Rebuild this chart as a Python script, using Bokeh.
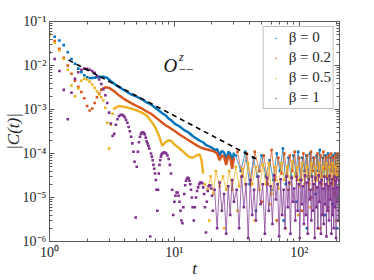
from bokeh.plotting import figure
from bokeh.models import Range1d, LogAxis, LogTicker, CustomJSTickFormatter, Legend, LegendItem
from bokeh.core.properties import value
from bokeh.embed import file_html
from bokeh.resources import INLINE

BLUE = "#0072BD"; ORANGE = "#D95319"; YELLOW = "#EDB120"; PURPLE = "#7E2F8E"
legend_labels = ["β = 0", "β = 0.2", "β = 0.5", "β = 1"]

# ---------------- beta = 0 ----------------
blue_t_early = [1.0,1.1,1.2,1.3,1.4,1.5,1.6,1.7,1.8,1.9,2.0,2.1,2.2,2.3,2.4,2.5]
blue_C_early = [5.0e-2,4.5e-2,3.7e-2,2.9e-2,2.0e-2,1.4e-2,1.1e-2,8.5e-3,7.0e-3,6.0e-3,5.4e-3,5.2e-3,5.2e-3,5.3e-3,5.4e-3,5.5e-3]
blue_t_mid = [2.5,2.7,2.9,3.1,3.4,3.7,4.0,4.5,5.0,5.5,6.0,6.5,7.0,7.5,8.0,8.5,9.0,9.5,
              10,11,12,13,14,15,16,17,18,19,20,21,22,23,24,25,26,27,28,29,30]
blue_C_mid = [5.5e-3,5.6e-3,5.2e-3,4.4e-3,3.6e-3,3.1e-3,2.7e-3,
              2.2e-3,1.95e-3,1.7e-3,1.45e-3,1.3e-3,1.1e-3,9.5e-4,8.2e-4,7.4e-4,6.2e-4,5.6e-4,
              4.8e-4,4.1e-4,3.4e-4,3.0e-4,2.5e-4,2.2e-4,1.95e-4,1.8e-4,1.55e-4,1.45e-4,1.35e-4,
              1.2e-4,1.25e-4,9e-5,1.15e-4,1.05e-4,7e-5,1.1e-4,1.0e-4,6e-5,1.05e-4]
blue_t_tail = [31,34,37,40,43,46,50,54,58,62,66,70,74,78,82,86,90,94,98,102,106,110,114,118,
               122,126,130,134,138,142,146,150,154,158,162,166,170,174,178,182,186,190,194,198,202,206]
blue_C_tail = [9e-5,4e-5,1.1e-4,2e-5,8e-5,3e-5,9e-5,3e-5,7e-5,2.5e-5,
               1.0e-4,4e-5,1.3e-4,2e-5,8e-5,3e-5,9e-5,3.5e-5,1.1e-4,2.5e-5,
               8e-5,4e-5,9e-5,3e-5,1e-4,3e-5,8e-5,2.5e-5,9e-5,4e-5,
               1.2e-4,2e-5,8e-5,3e-5,9e-5,3e-5,1e-4,2.5e-5,8e-5,4e-5,
               9e-5,2.5e-5,1e-4,3e-5,8e-5,3e-5]
blue_t_low = [45,60,75,95,115,135,160,185,200]
blue_C_low = [5e-6,1.5e-5,3e-6,8e-6,2e-6,1.2e-5,4e-6,7e-6,2e-6]

# ---------------- beta = 0.2 ----------------
orange_t_early = [1.0,1.1,1.2,1.3,1.4,1.5,1.6,1.7,1.8,1.9,2.0,2.1,2.2,2.3,2.4,2.5,2.6]
orange_C_early = [5.2e-2,3.6e-2,2.4e-2,1.5e-2,1.0e-2,6.5e-3,4.5e-3,3.3e-3,2.5e-3,1.8e-3,1.2e-3,
                  9.5e-4,1.05e-3,1.4e-3,1.9e-3,2.3e-3,2.8e-3]
orange_t_mid = [2.6,2.8,3.0,3.3,3.6,4.0,4.5,5.0,5.5,6.0,6.5,7.0,7.5,8.0,8.5,9.0,9.5,
                10,11,12,13,14,15,16,17,18,19,20,21,22,23,24,25,26,27,28,29,30]
orange_C_mid = [2.8e-3,3.2e-3,3.1e-3,2.6e-3,2.1e-3,1.7e-3,
                1.4e-3,1.2e-3,1.05e-3,9e-4,8e-4,6.8e-4,5.8e-4,5.0e-4,4.4e-4,4.0e-4,3.6e-4,
                3.3e-4,2.7e-4,2.3e-4,2.0e-4,1.75e-4,1.55e-4,1.4e-4,1.3e-4,1.25e-4,1.2e-4,1.15e-4,
                1.1e-4,1.0e-4,7e-5,9e-5,8.5e-5,5.5e-5,9e-5,8e-5,4.5e-5,8e-5]
orange_t_tail = [32,35,38,41,44,48,52,56,60,64,68,72,76,80,84,88,92,96,100,104,108,112,116,120,
                 124,128,132,136,140,144,148,152,156,160,164,168,172,176,180,184,188,192,196,200,204,208]
orange_C_tail = [1.1e-4,3e-5,1.0e-4,2e-5,1.1e-4,4e-5,9e-5,2e-5,1.2e-4,2.5e-5,
                 8e-5,3.5e-5,1.0e-4,3e-5,9e-5,4e-5,1.1e-4,2.5e-5,8e-5,2.5e-5,
                 1.0e-4,3e-5,9e-5,2e-5,1.1e-4,4e-5,8e-5,2.5e-5,1.0e-4,3e-5,
                 9e-5,2e-5,1.1e-4,4.5e-5,8e-5,3e-5,9e-5,3e-5,1.0e-4,2e-5,
                 8e-5,2.5e-5,9e-5,3.5e-5,1.0e-4,2.5e-5]
orange_t_low = [50,66,82,105,125,145,170,190,205]
orange_C_low = [8e-6,3e-6,1.5e-5,5e-6,1e-5,2e-6,6e-6,1.2e-5,3e-6]

# ---------------- beta = 0.5 ----------------
yellow_t_early = [1.0,1.1,1.2,1.3,1.4,1.5,1.6,1.7,1.8,1.9,2.0,2.1,2.2,2.3,2.4,2.5,2.6,2.7,2.8,2.9,
                  3.0,3.1,3.2,3.3]
yellow_C_early = [4.8e-2,3.3e-2,2.2e-2,1.4e-2,8e-3,3.5e-3,2.0e-3,3.0e-3,4.5e-3,5.0e-3,4.8e-3,4.3e-3,
                  3.7e-3,3.1e-3,2.6e-3,2.2e-3,1.9e-3,1.6e-3,1.1e-3,5e-4,1.3e-4,4.5e-4,8e-4,1.05e-3]
yellow_t_mid = [3.3,3.6,4.0,4.5,5.0,5.5,6.0,6.5,7.0,7.5,8.0,8.5,9.0,9.5,10,10.5,11,12,13,14,15,16,16.5,17]
yellow_C_mid = [1.05e-3,1.2e-3,1.15e-3,1.05e-3,9.5e-4,8.5e-4,7.3e-4,5.5e-4,4.0e-4,2.6e-4,1.5e-4,1.8e-4,
                2.0e-4,1.9e-4,1.6e-4,1.45e-4,1.3e-4,1.05e-4,8.5e-5,8e-5,9e-5,9.5e-5,7e-5,3.5e-5]
yellow_t_tail = [17.5,18.5,19.5,20.5,21.5,23,24.5,26,27.5,29,31,33,35,37,39,42,45,48,51,54,57,60,
                 64,68,72,76,80,84,88,92,96,100,105,110,115,120,125,130,135,140,145,150,155,160,
                 165,170,175,180,185,190,195,200,205]
yellow_C_tail = [2e-5,1.5e-5,3e-5,1.2e-5,4e-5,1.8e-5,3e-5,1.5e-5,4e-5,1.5e-5,
                 5e-5,1.8e-5,4.5e-5,2e-5,6e-5,2e-5,5e-5,1.5e-5,5.5e-5,2e-5,
                 6e-5,1.2e-5,5e-5,1.6e-5,6e-5,2.5e-5,5e-5,2e-5,6.5e-5,3e-5,
                 5e-5,1.8e-5,6e-5,2e-5,5e-5,1.5e-5,6e-5,1.5e-5,5e-5,2.5e-5,
                 6e-5,2e-5,5e-5,3e-5,6e-5,1.5e-5,5e-5,2e-5,6e-5,1.2e-5,
                 5e-5,3e-5,6e-5]
yellow_t_low = [19,25,32,44,58,78,98,122,148,172,198]
yellow_C_low = [3e-6,2e-6,5e-6,3e-6,7e-6,2e-6,4e-6,6e-6,2e-6,5e-6,3e-6]

# ---------------- beta = 1 ----------------
purple_t = [1.0,1.1,1.2,1.3,1.4,1.5,1.6,1.7,1.8,1.9,2.0,2.1,2.2,2.3,2.4,2.5,2.6,2.7,2.8,2.9,
            3.0,3.1,3.2,3.3,3.4,3.5,3.6,3.7,3.8,3.9,4.0,4.1,4.2,4.3,4.4,4.5,4.6,4.7,4.8,4.9,
            5.0,5.1,5.2,5.3,5.4,5.5,5.6,5.7,5.8,5.9,6.0,6.1,6.2,6.3,6.4,6.5,6.6,6.7,6.8,6.9,
            7.0,7.1,7.2,7.3,7.4,7.5,7.6,7.7,7.8,7.9,8.0,8.2,8.4,8.6,8.8,9.0,9.2,9.4,9.6,9.8,
            10.0,10.2,10.4,10.6,10.8,11.0,11.2,11.4,11.6,11.8,12.0,12.2,12.4,12.6,12.8,13.0,
            13.2,13.4,13.6,13.8,14.0,14.3,14.6,14.9,15.2,15.5,15.8,16.1,16.4,16.7,17.0,17.3,
            17.6,17.9,18.2,18.5,18.8,19.1,19.4,19.7,20.0,20.3]
purple_C = [2.0e-2,1.4e-2,7.5e-3,2.8e-3,6e-4,2.4e-3,5.0e-3,7.0e-3,8.0e-3,8.5e-3,
            8.4e-3,8.0e-3,7.5e-3,6.8e-3,5.8e-3,4.8e-3,3.8e-3,2.9e-3,2.1e-3,1.4e-3,
            8.5e-4,4.8e-4,2.5e-4,2.8e-4,4.5e-4,6.0e-4,7.0e-4,7.5e-4,7.6e-4,7.3e-4,
            6.7e-4,5.8e-4,5.0e-4,4.0e-4,3.2e-4,2.4e-4,1.7e-4,1.1e-4,6.5e-5,3.5e-6,
            5e-5,1.1e-4,1.8e-4,2.4e-4,2.8e-4,3.0e-4,3.0e-4,2.9e-4,2.7e-4,2.3e-4,
            1.9e-4,1.7e-4,1.5e-4,1.3e-4,1.3e-6,1.0e-4,8.5e-5,7.0e-5,5.5e-5,4.5e-5,
            3.5e-5,2.5e-5,1.5e-5,5e-6,1.5e-5,3.5e-5,5.5e-5,7e-5,8.5e-5,9.5e-5,
            1.0e-4,1.05e-4,1.05e-4,1.0e-4,9e-5,7.5e-5,5.5e-5,3.5e-5,1.5e-5,4e-6,
            8e-6,1.1e-5,1.3e-5,1.3e-5,1.1e-5,8e-6,5e-6,3e-6,2.6e-6,6e-6,
            1.2e-5,1.9e-5,2.4e-5,2.7e-5,2.8e-5,2.7e-5,2.4e-5,2.0e-5,1.5e-5,1.0e-5,
            6e-6,3e-6,6e-6,1e-5,1.4e-5,1.7e-5,2.0e-5,2.2e-5,2.2e-5,2.1e-5,
            1.7e-5,1.2e-5,6e-6,1.6e-6,8e-6,1.4e-5,1.8e-5,1.9e-5,1.9e-5,1.6e-5,
            1.1e-5,5e-6]
purple_t_tail = [21,22,23,24,25,26,27,28,29,30,31.5,33,34.5,36,37.5,39,40.5,42,43.5,45,
                 47,49,51,53,55,57,59,61,63,65,67,69,71,73,75,77,79,81,83,85,87,89,91,93,95,
                 97,99,101,103,105,107,109,111,113,115,117,119,121,123,125,127,129,131,133,
                 135,137,139,141,143,145,147,149,151,153,155,157,159,161,163,165,167,169,171,
                 173,175,177,179,181,183,185,187,189,191,193,195,197,199,201,203,205,207,209]
purple_C_tail = [1.5e-5,2e-6,2.2e-5,5e-6,1.2e-5,1.5e-6,1.8e-5,4e-6,2.5e-5,8e-6,
                 1.5e-5,2e-6,3e-5,6e-6,2e-5,1.2e-6,2.5e-5,4e-6,1.5e-5,3e-6,
                 3e-5,7e-6,2e-5,1.5e-6,2.8e-5,5e-6,1.8e-5,2.5e-6,3.2e-5,9e-6,
                 2e-5,1.3e-6,2.6e-5,4e-6,1.5e-5,2e-6,3e-5,6e-6,2.2e-5,1.5e-6,
                 2.8e-5,8e-6,1.6e-5,3e-6,3e-5,5e-6,2e-5,1.2e-6,2.5e-5,7e-6,
                 1.8e-5,2.5e-6,3.2e-5,4e-6,2.2e-5,1.5e-6,2.6e-5,9e-6,1.5e-5,3e-6,
                 3e-5,5e-6,2e-5,1.2e-6,2.8e-5,6e-6,1.7e-5,2e-6,3.2e-5,8e-6,
                 2.2e-5,1.5e-6,2.5e-5,4e-6,1.6e-5,2.5e-6,3e-5,7e-6,2e-5,1.3e-6,
                 2.7e-5,5e-6,1.8e-5,3e-6,3.1e-5,9e-6,2.1e-5,1.5e-6,2.6e-5,4e-6,
                 1.6e-5,2e-6,3e-5,6e-6,2.3e-5,1.2e-6,2.8e-5,8e-6,1.7e-5,3e-6,
                 2.5e-5,5e-6]

# reference power law (dashed)
dash_t = [1.42, 45]
dash_C = [1.33e-2, 7.6e-5]

# ---------------- figure ----------------
p = figure(width=374, height=280, x_axis_type="log", y_axis_type="log",
           x_range=Range1d(1, 210), y_range=Range1d(1e-6, 1e-1),
           output_backend="svg", toolbar_location=None,
           min_border_left=49, min_border_right=35, min_border_top=21, min_border_bottom=39)
p.xgrid.visible = False
p.ygrid.visible = False
p.outline_line_color = None
p.background_fill_color = "white"
p.border_fill_color = "white"

fmt = CustomJSTickFormatter(code=r"""
const s = {'-':'\u207b','0':'\u2070','1':'\u00b9','2':'\u00b2','3':'\u00b3','4':'\u2074',
           '5':'\u2075','6':'\u2076','7':'\u2077','8':'\u2078','9':'\u2079'};
const e = Math.round(Math.log10(tick));
return '10' + String(e).split('').map(c => s[c]).join('');
""")
blank = CustomJSTickFormatter(code="return ' ';")

AX = "#5a5a5a"
def style_axis(ax, show_labels=True):
    ax.ticker = LogTicker(num_minor_ticks=10)
    ax.axis_line_color = AX
    ax.major_tick_line_color = AX
    ax.minor_tick_line_color = AX
    ax.major_tick_in = 5
    ax.major_tick_out = 0
    ax.minor_tick_in = 3
    ax.minor_tick_out = 0
    if show_labels:
        ax.formatter = fmt
        ax.major_label_text_font = "Liberation Serif"
        ax.major_label_text_font_size = "14px"
        ax.major_label_text_color = "#262626"
        ax.major_label_standoff = 3
    else:
        ax.formatter = blank
        ax.major_label_text_font_size = "1px"
        ax.major_label_text_alpha = 0
        ax.major_label_standoff = 0

style_axis(p.xaxis[0])
style_axis(p.yaxis[0])
p.xaxis.axis_label = "t"
p.yaxis.axis_label = "|C(t)|"
for ax in (p.xaxis[0], p.yaxis[0]):
    ax.axis_label_text_font = "Liberation Serif"
    ax.axis_label_text_font_style = "italic"
    ax.axis_label_text_font_size = "17px"
    ax.axis_label_text_color = "#262626"
p.xaxis[0].axis_label_standoff = -4
p.yaxis[0].axis_label_standoff = -3

top_ax = LogAxis()
right_ax = LogAxis()
style_axis(top_ax, False)
style_axis(right_ax, False)
p.add_layout(top_ax, "above")
p.add_layout(right_ax, "right")

MS = 2.6
def series(te, Ce, tm, Cm, tt, Ct, tl, Cl, col):
    p.scatter(te, Ce, marker="square", size=MS, fill_color=col, line_color=None)
    if tm is not None:
        p.line(tm, Cm, line_color=col, line_width=2.4)
    p.line(tt, Ct, line_color=col, line_width=0.9, line_alpha=0.8)
    p.scatter(tt, Ct, marker="square", size=MS, fill_color=col, line_color=None)
    if tl is not None:
        p.scatter(tl, Cl, marker="square", size=MS, fill_color=col, line_color=None)

series(blue_t_early, blue_C_early, blue_t_mid, blue_C_mid, blue_t_tail, blue_C_tail,
       blue_t_low, blue_C_low, BLUE)
series(orange_t_early, orange_C_early, orange_t_mid, orange_C_mid, orange_t_tail, orange_C_tail,
       orange_t_low, orange_C_low, ORANGE)
series(yellow_t_early, yellow_C_early, yellow_t_mid, yellow_C_mid, yellow_t_tail, yellow_C_tail,
       yellow_t_low, yellow_C_low, YELLOW)
series(purple_t, purple_C, None, None, purple_t_tail, purple_C_tail, None, None, PURPLE)

p.line(dash_t, dash_C, line_color="black", line_width=1.6, line_dash="5 4")

# legend (dummy renderers outside the visible range carry the legend glyphs)
leg_r = [p.scatter(x=[1.0], y=[1e-9], marker="dot", size=10, line_color=c, fill_color=c)
         for c in (BLUE, ORANGE, YELLOW, PURPLE)]
legend = Legend(items=[LegendItem(label=l, renderers=[r]) for l, r in zip(legend_labels, leg_r)],
                location="top_right")
legend.margin = 5
legend.padding = 2
legend.spacing = 3
legend.label_height = 14
legend.glyph_height = 14
legend.glyph_width = 20
legend.label_standoff = 3
legend.label_text_font = "Liberation Serif"
legend.label_text_font_size = "15px"
legend.label_text_color = "#262626"
legend.border_line_color = "#7f7f7f"
legend.border_line_width = 1
legend.background_fill_alpha = 1
p.add_layout(legend)

# annotation O^z_{--} (text glyphs placed in data space)
p.text(x=[8.2], y=[1.0e-2], text=["O"], text_font=value("Liberation Serif"), text_font_style="italic",
       text_font_size="19px", text_baseline="alphabetic", text_color="#111111")
p.text(x=[10.9], y=[1.52e-2], text=["z"], text_font=value("Liberation Serif"), text_font_style="italic",
       text_font_size="12px", text_baseline="alphabetic", text_color="#111111")
p.text(x=[10.8], y=[8.1e-3], text=["−−"], text_font=value("Liberation Serif"),
       text_font_size="13px", text_baseline="alphabetic", text_color="#111111")

open("out.html", "w", encoding="utf-8").write(file_html(p, INLINE))
